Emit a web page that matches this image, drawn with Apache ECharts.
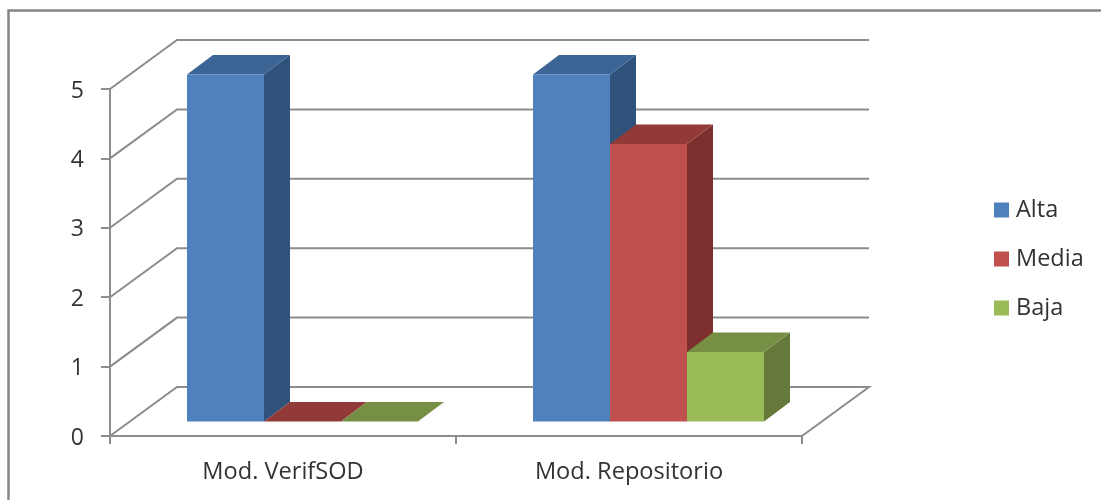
<!DOCTYPE html>
<html>
<head>
<meta charset="utf-8">
<style>
  html, body { margin: 0; padding: 0; background: #fff; }
  #chart { width: 1101px; height: 500px; }
</style>
<script src="https://cdn.jsdelivr.net/npm/echarts@6/dist/echarts.min.js"></script>
</head>
<body>
<div id="chart"></div>
<script>
const categories = ['Mod. VerifSOD', 'Mod. Repositorio']
const alta = [5, 5]
const media = [0, 4]
const baja = [0, 1]
const yTicks = [0, 1, 2, 3, 4, 5]

const FONT = '"Open Sans", "Noto Sans", sans-serif'
const LINE = '#8c8c8c'
const TEXT = '#333333'

// depth of the floor, and of the bars on it
const WALL_DX = 67
const WALL_DY = -49
const BAR_DX = 26
const BAR_DY = -19.5
const GAP_DX = 19.5
const GAP_DY = -14.5
const BAR_RATIO = 77 / 346

const chart = echarts.init(document.getElementById('chart'))

// back wall: diagonal from the y axis, then across
const renderWall = (params, api) => {
  const value = api.value(0)
  const start = api.coord([0, value])
  const halfBand = api.size([1, 0])[0] / 2
  const x0 = start[0] - halfBand
  const x1 = x0 + halfBand * 2 * categories.length
  const y = start[1]
  const points = [[x0, y], [x0 + WALL_DX, y + WALL_DY], [x1 + WALL_DX, y + WALL_DY]]
  if (value === 0) points.push([x1, y])
  return {
    type: 'polyline',
    shape: { points },
    style: { stroke: LINE, lineWidth: 2, fill: null },
  }
}

const bar3d = (order, colors) => (params, api) => {
  const center = api.coord([api.value(0), api.value(1)])
  const base = api.coord([api.value(0), 0])
  const w = api.size([1, 0])[0] * BAR_RATIO
  const left = center[0] + GAP_DX + (order - 1.5) * w
  const right = left + w
  const top = center[1] + GAP_DY
  const bottom = base[1] + GAP_DY
  return {
    type: 'group',
    children: [
      {
        type: 'polygon',
        shape: { points: [[right, top], [right + BAR_DX, top + BAR_DY], [right + BAR_DX, bottom + BAR_DY], [right, bottom]] },
        style: { fill: colors.side },
      },
      {
        type: 'polygon',
        shape: { points: [[left, top], [left + BAR_DX, top + BAR_DY], [right + BAR_DX, top + BAR_DY], [right, top]] },
        style: { fill: colors.top },
      },
      {
        type: 'rect',
        shape: { x: left, y: top, width: w, height: bottom - top },
        style: { fill: colors.front },
      },
    ],
  }
}

const barSeries = (name, values, order, colors) => ({
  name,
  type: 'custom',
  renderItem: bar3d(order, colors),
  data: values.map((v, i) => [i, v]),
  encode: { x: 0, y: 1 },
  itemStyle: { color: colors.front },
  silent: true,
})

const option = {
  animation: false,
  backgroundColor: '#ffffff',
  textStyle: { fontFamily: FONT },
  grid: { left: 110, top: 89, width: 692, height: 347 },
  graphic: [
    {
      type: 'polyline',
      shape: { points: [[8.5, 500], [8.5, 10.5], [1101, 10.5]] },
      style: { stroke: '#868686', lineWidth: 2.5, fill: null },
    },
  ],
  legend: {
    data: ['Alta', 'Media', 'Baja'],
    orient: 'vertical',
    left: 994,
    top: 198,
    padding: 0,
    itemWidth: 15,
    itemHeight: 15,
    itemGap: 25,
    icon: 'rect',
    textStyle: { fontFamily: FONT, fontSize: 23.5, color: TEXT, padding: [0, 0, 0, 2] },
  },
  xAxis: {
    type: 'category',
    data: categories,
    axisLine: { lineStyle: { color: LINE, width: 2 } },
    axisTick: { show: true, length: 8, lineStyle: { color: LINE, width: 2 } },
    axisLabel: { color: TEXT, fontSize: 23.6, margin: 24, fontFamily: FONT },
  },
  yAxis: {
    type: 'value',
    min: 0,
    max: 5,
    interval: 1,
    axisLine: { show: true, lineStyle: { color: LINE, width: 2 } },
    axisTick: { show: true, length: 9, lineStyle: { color: LINE, width: 2 } },
    // lineHeight 4 with top alignment drops the digits 2px below the tick
    axisLabel: { color: TEXT, fontSize: 23, margin: 26, fontFamily: FONT, verticalAlign: 'top', lineHeight: 4 },
    splitLine: { show: false },
  },
  series: [
    {
      name: 'wall',
      type: 'custom',
      renderItem: renderWall,
      data: yTicks.map((v) => [v]),
      encode: { y: 0 },
      silent: true,
    },
    barSeries('Alta', alta, 0, { front: '#4f81bd', top: '#3c6494', side: '#2f527b' }),
    barSeries('Media', media, 1, { front: '#c0504d', top: '#923a38', side: '#7d2f2d' }),
    barSeries('Baja', baja, 2, { front: '#9bbb59', top: '#778f45', side: '#657a3a' }),
  ],
}

chart.setOption(option)
</script>
</body>
</html>
